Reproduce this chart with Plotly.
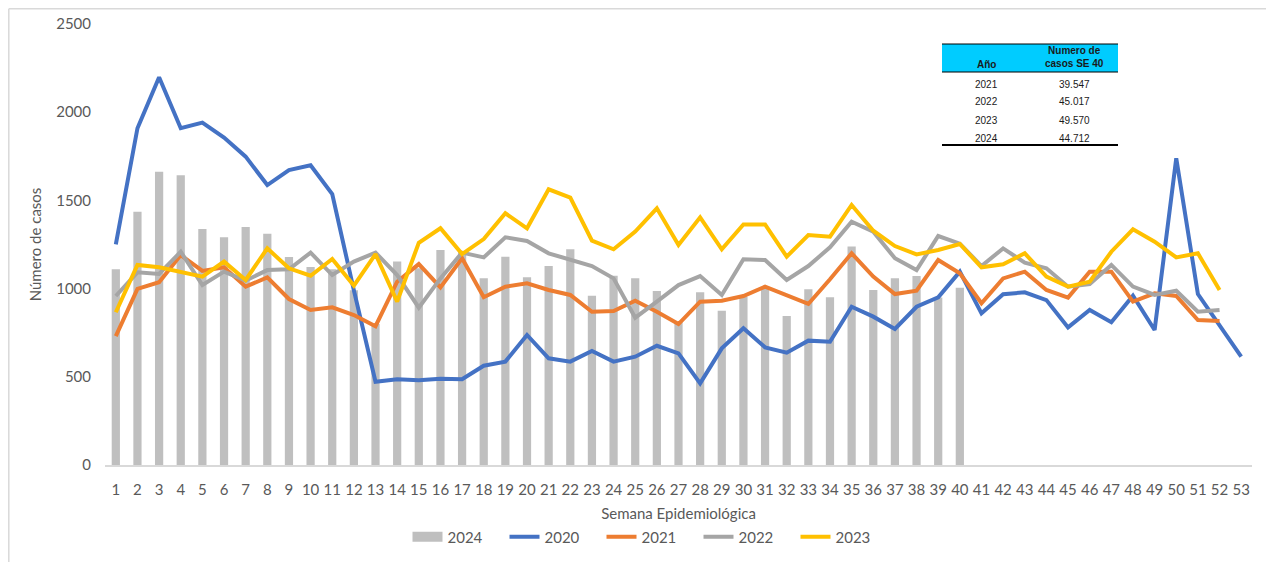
import plotly.graph_objects as go

weeks = list(range(1, 54))

cases_2024 = [1110, 1436, 1663, 1642, 1338, 1291, 1349, 1311, 1179, 1122,
              1110, 990, 800, 1153, 1115, 1219, 1209, 1058, 1181, 1064,
              1128, 1223, 960, 1073, 1058, 986, 810, 979, 875, 954,
              1000, 845, 996, 951, 1238, 992, 1058, 1071, 950, 1005]

cases_2020 = [1251, 1909, 2198, 1909, 1941, 1856, 1748, 1587, 1672, 1699,
              1536, 990, 472, 486, 480, 489, 486, 563, 586, 737,
              605, 586, 646, 586, 614, 676, 633, 463, 661, 775,
              667, 637, 705, 699, 897, 841, 771, 897, 951, 1096,
              860, 968, 979, 935, 780, 879, 809, 960, 765, 1739,
              969, 794, 614]

cases_2021 = [731, 998, 1036, 1190, 1100, 1121, 1011, 1064, 941, 879,
              894, 850, 787, 1039, 1139, 1007, 1172, 951, 1011, 1030,
              992, 964, 869, 873, 931, 869, 799, 926, 931, 958,
              1011, 964, 913, 1053, 1200, 1068, 969, 988, 1162, 1087,
              917, 1058, 1096, 992, 949, 1096, 1096, 926, 973, 958,
              822, 816]

cases_2022 = [958, 1092, 1083, 1209, 1020, 1096, 1045, 1105, 1109, 1204,
              1077, 1153, 1204, 1077, 892, 1058, 1204, 1177, 1291, 1270,
              1200, 1162, 1128, 1058, 835, 926, 1020, 1071, 964, 1166,
              1162, 1049, 1128, 1234, 1379, 1323, 1172, 1105, 1298, 1255,
              1128, 1228, 1147, 1115, 1011, 1026, 1134, 1011, 964, 988,
              869, 879]

cases_2023 = [866, 1134, 1121, 1092, 1068, 1153, 1049, 1228, 1115, 1073,
              1168, 1017, 1195, 926, 1260, 1342, 1196, 1281, 1427, 1342,
              1563, 1516, 1272, 1223, 1323, 1455, 1247, 1404, 1223, 1364,
              1364, 1181, 1304, 1294, 1474, 1328, 1241, 1194, 1219, 1253,
              1121, 1138, 1200, 1068, 1011, 1039, 1209, 1336, 1266, 1177,
              1200, 992]

table_years = ["2021", "2022", "2023", "2024"]
table_values = ["39.547", "45.017", "49.570", "44.712"]

series = [
    ("2020", cases_2020, "#4472C4"),
    ("2021", cases_2021, "#ED7D31"),
    ("2022", cases_2022, "#A5A5A5"),
    ("2023", cases_2023, "#FFC000"),
]

# page has an 8px body margin; figure sized to fit inside the window
OFF = 8
W, H = 1274 - OFF, 562 - OFF
L, R, T, B = 105 - OFF, 22, 24 - OFF, 97
PW, PH = W - L - R, H - T - B


def px(x):
    # page pixel -> paper coordinate
    return (x - OFF - L) / PW


def py(y):
    return (H - B - (y - OFF)) / PH


fig = go.Figure()
fig.add_trace(go.Bar(
    x=weeks[:len(cases_2024)], y=cases_2024, name="2024",
    marker=dict(color="#BFBFBF", line=dict(width=0)), width=0.38,
    legendgroup="2024", showlegend=False,
))
# legend key for the bars (wide grey block, as in the original)
fig.add_trace(go.Scatter(
    x=[None], y=[None], name="2024", mode="lines", legendgroup="2024",
    line=dict(color="#BFBFBF", width=10),
))
for name, vals, col in series:
    fig.add_trace(go.Scatter(
        x=weeks[:len(vals)], y=vals, name=name, mode="lines",
        line=dict(color=col, width=4),
    ))

font_main = "Lato, Calibri, Carlito, sans-serif"
grey_txt = "#595959"

fig.update_layout(
    width=W, height=H,
    margin=dict(l=L, r=R, t=T, b=B, autoexpand=False),
    paper_bgcolor="white", plot_bgcolor="white",
    font=dict(family=font_main, size=15, color=grey_txt),
    showlegend=True,
    legend=dict(orientation="h", x=px(650), xanchor="center",
                y=py(537), yanchor="middle",
                font=dict(size=15, color=grey_txt),
                itemwidth=30, entrywidth=52, entrywidthmode="pixels",
                tracegroupgap=0, bgcolor="rgba(0,0,0,0)"),
    bargap=0.6,
)
fig.update_xaxes(
    range=[0.5, 53.5], tickmode="array", tickvals=weeks,
    ticktext=[str(w) for w in weeks], tickangle=0,
    showgrid=False, zeroline=False,
    showline=True, linecolor="#D9D9D9", linewidth=1.5,
    ticks="outside", ticklen=10, tickcolor="rgba(0,0,0,0)",
    tickfont=dict(size=15, color=grey_txt),
    title=dict(text="Semana Epidemiológica", standoff=12,
               font=dict(size=15, color=grey_txt)),
    automargin=False,
)
fig.update_yaxes(
    range=[0, 2500], tickmode="array", tickvals=[0, 500, 1000, 1500, 2000, 2500],
    showgrid=False, zeroline=False, showline=False,
    ticks="outside", ticklen=10, tickcolor="rgba(0,0,0,0)",
    tickfont=dict(size=15, color=grey_txt),
    title=dict(text="Número de casos", standoff=10,
               font=dict(size=15, color=grey_txt)),
    automargin=False,
)

# chart-area border (left and top edges visible)
shapes = [
    dict(type="line", xref="paper", yref="paper", x0=px(8.8), x1=px(8.8),
         y0=py(8.8), y1=py(600), line=dict(color="#D9D9D9", width=1.5)),
    dict(type="line", xref="paper", yref="paper", x0=px(8.8), x1=px(1300),
         y0=py(8.8), y1=py(8.8), line=dict(color="#D9D9D9", width=1.5)),
]

# inset table
tx0, tx1 = 942, 1118
shapes += [
    dict(type="rect", xref="paper", yref="paper", x0=px(tx0), x1=px(tx1),
         y0=py(72), y1=py(44), fillcolor="#00CCFF", line=dict(width=0), layer="above"),
    dict(type="line", xref="paper", yref="paper", x0=px(tx0), x1=px(tx1),
         y0=py(44), y1=py(44), line=dict(color="black", width=1), layer="above"),
    dict(type="line", xref="paper", yref="paper", x0=px(tx0), x1=px(tx1),
         y0=py(72), y1=py(72), line=dict(color="black", width=1), layer="above"),
    dict(type="line", xref="paper", yref="paper", x0=px(tx0), x1=px(tx1),
         y0=py(145), y1=py(145), line=dict(color="black", width=2), layer="above"),
]

tfont = "Liberation Sans, Arial, sans-serif"
annotations = [
    dict(text="<b>Año</b>", x=px(986), y=py(64), xref="paper", yref="paper",
         showarrow=False, xanchor="center", yanchor="middle",
         font=dict(family=tfont, size=10, color="#1a1a1a")),
    dict(text="<b>Numero de<br>casos SE 40</b>", x=px(1074), y=py(57),
         xref="paper", yref="paper", showarrow=False, xanchor="center",
         yanchor="middle", font=dict(family=tfont, size=10, color="#1a1a1a")),
]
row_y = [84, 102, 120, 138]
for yr, val, ry in zip(table_years, table_values, row_y):
    annotations.append(dict(text=yr, x=px(986), y=py(ry), xref="paper", yref="paper",
                            showarrow=False, xanchor="center", yanchor="middle",
                            font=dict(family=tfont, size=10, color="#1a1a1a")))
    annotations.append(dict(text=val, x=px(1074), y=py(ry), xref="paper", yref="paper",
                            showarrow=False, xanchor="center", yanchor="middle",
                            font=dict(family=tfont, size=10, color="#1a1a1a")))

fig.update_layout(shapes=shapes, annotations=annotations)
fig.write_html("out.html")
